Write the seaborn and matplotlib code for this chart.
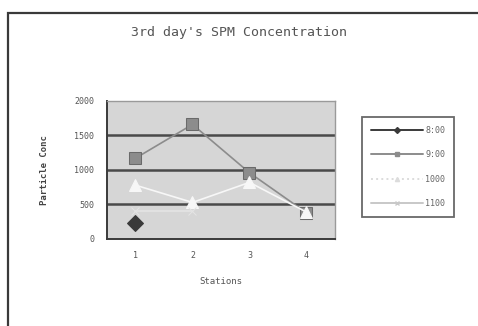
import numpy as np
import pandas as pd
import matplotlib
matplotlib.use("Agg")
import matplotlib.pyplot as plt
from matplotlib.patches import Rectangle
from matplotlib.lines import Line2D
import seaborn as sns

# Data: SPM concentration per station, four sampling series
stations = [1, 2, 3, 4]
series_names = ["8:00", "9:00", "1000", "1100"]
s1 = [230, np.nan, np.nan, np.nan]
s2 = [1170, 1660, 960, 380]
s3 = [780, 530, 820, 390]
s4 = [400, 400, np.nan, np.nan]
yticks = [0, 500, 1000, 1500, 2000]

title = "3rd day's SPM Concentration"
xlabel = "Stations"
ylabel = "Particle Conc"

rows = []
for name, vals in zip(series_names, [s1, s2, s3, s4]):
    for st, v in zip(stations, vals):
        rows.append({"Station": st, "Series": name, "Value": v})
df = pd.DataFrame(rows)

sns.set_theme(style="white")
plt.rcParams["font.family"] = ["DejaVu Sans Mono", "DejaVu Sans"]

fig = plt.figure(figsize=(4.78, 3.26), dpi=100)
fig.patch.set_facecolor("white")
ax = fig.add_axes([0.2238, 0.2669, 0.4770, 0.4233])
ax.set_facecolor("#d6d6d6")

colors = {"8:00": "#3a3a3a", "9:00": "#8c8c8c", "1000": "#f7f7f7", "1100": "#e4e4e4"}
markers = {"8:00": "D", "9:00": "s", "1000": "^", "1100": "x"}
sizes = {"8:00": 8, "9:00": 9, "1000": 8, "1100": 6}

# horizontal gridlines drawn beneath the series
for y in [500, 1000, 1500]:
    ax.axhline(y, color="#4a4a4a", lw=1.8, zorder=1)

for name in series_names:
    sub = df[df["Series"] == name]
    sns.lineplot(data=sub, x="Station", y="Value", ax=ax, color=colors[name],
                 marker=markers[name], markersize=sizes[name],
                 markeredgecolor="#6a6a6a" if name == "9:00" else colors[name],
                 lw=1.2, zorder=3, legend=False)

ax.set_xlim(0.5, 4.5)
ax.set_ylim(0, 2000)
ax.set_yticks(yticks)
ax.set_yticklabels([str(t) for t in yticks], fontsize=6, color="#555555")
ax.set_xticks(stations)
ax.set_xticklabels([str(s) for s in stations], fontsize=6, color="#555555")
ax.set_xticks([0.5, 1.5, 2.5, 3.5, 4.5], minor=True)
ax.tick_params(axis="x", which="major", length=0, pad=9)
ax.tick_params(axis="x", which="minor", length=3, width=1.2, color="#444444", direction="out")
ax.tick_params(axis="y", which="major", length=3, width=1.2, color="#444444", direction="out", pad=6)
ax.set_xlabel(xlabel, fontsize=6.5, color="#555555", labelpad=12)
ax.set_ylabel(ylabel, fontsize=6.5, color="#444444", fontweight="bold", labelpad=18)

for side in ["left", "bottom"]:
    ax.spines[side].set_color("#3a3a3a")
    ax.spines[side].set_linewidth(1.4)
for side in ["top", "right"]:
    ax.spines[side].set_color("#9a9a9a")
    ax.spines[side].set_linewidth(1.0)

fig.text(0.50, 0.899, title, ha="center", va="center", fontsize=9.5, color="#555555")

# legend box
handles = [
    Line2D([0], [0], color="#3a3a3a", lw=1.4, marker="D", markersize=3),
    Line2D([0], [0], color="#8c8c8c", lw=1.4, marker="s", markersize=3),
    Line2D([0], [0], color="#dcdcdc", lw=1.4, ls=":", marker="^", markersize=3),
    Line2D([0], [0], color="#c8c8c8", lw=1.4, marker="x", markersize=3),
]
leg = fig.legend(handles, series_names, loc="upper left",
                 bbox_to_anchor=(0.757, 0.642), fontsize=6, frameon=True,
                 handlelength=6.2, labelspacing=1.85, borderpad=1.1,
                 handletextpad=0.3, borderaxespad=0, fancybox=False)
leg.get_frame().set_edgecolor("#444444")
leg.get_frame().set_linewidth(1.3)
for t in leg.get_texts():
    t.set_color("#666666")

# outer chart border
fig.patches.append(Rectangle((8 / 478, -0.05), 1.0, (326 - 13) / 326 + 0.05,
                             transform=fig.transFigure, fill=False,
                             edgecolor="#3a3a3a", lw=1.6))

fig.savefig("out.png", dpi=100)
